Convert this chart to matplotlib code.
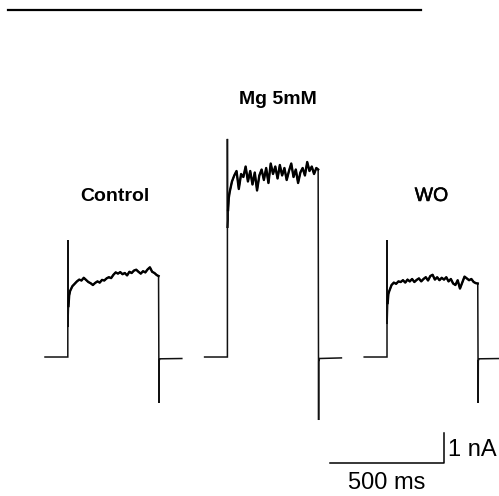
import matplotlib.pyplot as plt
import matplotlib.patheffects as pe
import numpy as np

plt.rcParams['font.family'] = ['Liberation Sans', 'DejaVu Sans']

# ---- data (time in ms, current in nA) ----
labels = ['Control', 'Mg 5mM', 'WO']
label_weight = ['bold', 'bold', 'normal']
trace_offset = [0, 700, 1400]          # where each sweep starts on the time axis
label_x = [305, 1020, 1695]
label_y = [5.2, 8.43, 5.2]

base_t = [0, 100]
base_i = [0.0, 0.0]

onset_t = [100, 100.5, 103, 106]
ctrl_onset = [3.90, 1.00, 1.70, 2.05]
mg_onset = [7.27, 4.30, 4.90, 5.30]
wo_onset = [3.90, 1.10, 1.80, 2.10]

plateau_t = list(range(110, 500, 10))
ctrl_plateau = [2.20, 2.36, 2.44, 2.52, 2.58, 2.55, 2.64, 2.57, 2.50, 2.46,
                2.40, 2.47, 2.52, 2.48, 2.57, 2.55, 2.62, 2.66, 2.63, 2.74,
                2.82, 2.78, 2.83, 2.76, 2.80, 2.72, 2.84, 2.80, 2.88, 2.91,
                2.84, 2.78, 2.86, 2.82, 2.92, 2.99, 2.84, 2.80, 2.73]
mg_plateau = [5.50, 5.85, 6.05, 6.20, 5.60, 6.10, 6.00, 6.35, 5.85, 6.20,
              5.75, 6.15, 5.55, 6.05, 6.25, 5.90, 6.30, 5.80, 6.45, 6.10,
              6.35, 5.95, 6.40, 6.05, 6.30, 5.90, 6.20, 6.45, 6.00, 6.25,
              5.80, 6.15, 6.30, 6.05, 6.50, 6.20, 6.35, 6.10, 6.30]
wo_plateau = [2.20, 2.40, 2.48, 2.44, 2.52, 2.50, 2.56, 2.48, 2.58, 2.52,
              2.60, 2.50, 2.57, 2.62, 2.52, 2.60, 2.66, 2.55, 2.70, 2.74,
              2.58, 2.66, 2.56, 2.64, 2.58, 2.66, 2.52, 2.60, 2.45, 2.40,
              2.56, 2.28, 2.48, 2.68, 2.62, 2.56, 2.60, 2.50, 2.46]

offset_t = [498, 500, 500.5, 504, 600]
ctrl_offset = [2.70, -1.53, -0.12, -0.06, -0.05]
mg_offset = [6.25, -2.10, -0.15, -0.05, -0.03]
wo_offset = [2.45, -1.53, -0.12, -0.06, -0.05]

onsets = [ctrl_onset, mg_onset, wo_onset]
plateaus = [ctrl_plateau, mg_plateau, wo_plateau]
offsets = [ctrl_offset, mg_offset, wo_offset]

# scale bar and top rule
bar_t = [1250, 1750]
bar_i = [-3.54, -2.54]
rule_y = 11.57
rule_t = [-162, 1649]

fig = plt.figure(figsize=(4.99, 4.96), dpi=100)
ax = fig.add_axes([0, 0, 1, 1])
ax.set_xlim(-197.4, 1991.2)
ax.set_ylim(-4.633, 11.9)
ax.axis('off')

for k in range(3):
    t = np.array(base_t + onset_t + plateau_t + offset_t, dtype=float) + trace_offset[k]
    cur = base_i + onsets[k] + plateaus[k] + offsets[k]
    ax.plot(t, cur, color='#111111', lw=1.1, solid_joinstyle='miter')
    # the noisy plateau is drawn heavier, like the scanned trace
    tp = np.array(onset_t[2:] + plateau_t + offset_t[:1], dtype=float) + trace_offset[k]
    ax.plot(tp, onsets[k][2:] + plateaus[k] + offsets[k][:1], color='black', lw=1.7)
    txt = ax.text(label_x[k], label_y[k], labels[k], ha='center', va='baseline',
                  fontsize=14, fontweight=label_weight[k])
    if label_weight[k] == 'normal':
        txt.set_path_effects([pe.withStroke(linewidth=0.35, foreground='black')])

# scale bar
ax.plot([bar_t[0], bar_t[1], bar_t[1]], [bar_i[0], bar_i[0], bar_i[1]],
        color='black', lw=1.1)
ax.text(bar_t[1] + 18, -3.1, '1 nA', ha='left', va='center', fontsize=17)
ax.text((bar_t[0] + bar_t[1]) / 2, bar_i[0] - 0.66, '500 ms', ha='center', va='center', fontsize=17)

# rule at the top
ax.plot(rule_t, [rule_y, rule_y], color='black', lw=1.6)

fig.savefig('out.png', dpi=100)
